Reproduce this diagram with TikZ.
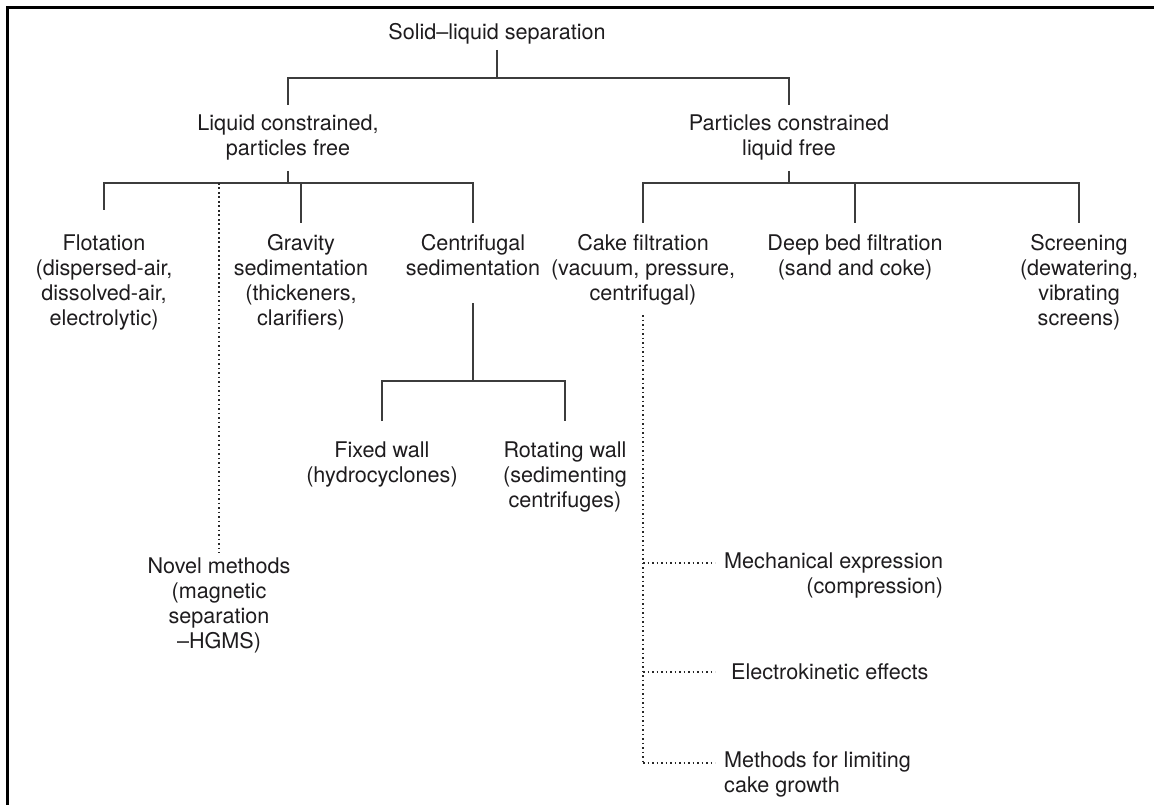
\documentclass[tikz,border=0pt]{standalone}
\usepackage{fontspec}
\setmainfont{TeX Gyre Heros}
\definecolor{txt}{RGB}{30,28,30}
\definecolor{ln}{RGB}{60,60,60}
\definecolor{dt}{RGB}{40,40,40}
\begin{document}
\begin{tikzpicture}[x=1pt,y=-1pt,
  lbl/.style={anchor=north,inner sep=0pt,align=center,font=\fontsize{21.6}{25}\selectfont,text=txt,execute at begin node=\strut},
  tree/.style={draw=ln,line width=1.3pt},
  dots/.style={draw=dt,line width=1.4pt,dash pattern=on 1.8pt off 2.7pt}]
\useasboundingbox (0,0) rectangle (1154,805);
\draw[line width=2.7pt,black] (7.5,805) -- (7.5,7.5) -- (1154,7.5);

% nodes
\node[lbl] (title) at (497,21.5) {Solid--liquid separation};
\node[lbl] (liquid) at (288,114.5) {Liquid constrained,\\particles free};
\node[lbl] (partic) at (789,114.5) {Particles constrained\\liquid free};
\node[lbl] (flot) at (104,234.5) {Flotation\\(dispersed-air,\\dissolved-air,\\electrolytic)};
\node[lbl] (grav) at (301,234.5) {Gravity\\sedimentation\\(thickeners,\\clarifiers)};
\node[lbl] (centr) at (473,234.5) {Centrifugal\\sedimentation};
\node[lbl] (cake) at (643,234.5) {Cake filtration\\(vacuum, pressure,\\centrifugal)};
\node[lbl] (deep) at (855,234.5) {Deep bed filtration\\(sand and coke)};
\node[lbl] (screen) at (1079,234.5) {Screening\\(dewatering,\\vibrating\\screens)};
\node[lbl] (fixed) at (382,441.5) {Fixed wall\\(hydrocyclones)};
\node[lbl] (rotat) at (565,441.5) {Rotating wall\\(sedimenting\\centrifuges)};
\node[lbl] (novel) at (219,557.5) {Novel methods\\(magnetic\\separation\\--HGMS)};
\node[lbl,anchor=north west,align=right] (mech) at (724,552.5) {Mechanical expression\\(compression)};
\node[lbl,anchor=north west] (elec) at (731,661.5) {Electrokinetic effects};
\node[lbl,anchor=north west,align=left] (meth) at (724,751.5) {Methods for limiting\\cake growth};

% junction coordinates
\coordinate (t0) at (497,50);
\coordinate (t1) at (497,78);
\coordinate (l0) at (288,171);
\coordinate (l1) at (288,183);
\coordinate (p0) at (789,171);
\coordinate (p1) at (789,183);
\coordinate (c0) at (473,303);
\coordinate (c1) at (473,381);
\coordinate (k0) at (643,315);
\coordinate (kM) at (643,563);
\coordinate (kE) at (643,672);
\coordinate (kL) at (643,763);

% top level
\draw[tree] (t0) -- (t1);
\draw[tree] ([yshift=9.5pt]liquid.north) |- (t1) -| ([yshift=9.5pt]partic.north);

% liquid constrained branch
\draw[tree] (l0) -- (l1);
\draw[tree] ([yshift=24.5pt]flot.north) |- (l1) -| ([yshift=11.5pt]centr.north);
\draw[tree] (l1 -| grav.north) -- ([yshift=11.5pt]grav.north);
\draw[dots] (l1 -| novel.north) -- ([yshift=4.5pt]novel.north);

% particles constrained branch
\draw[tree] (p0) -- (p1);
\draw[tree] ([yshift=11.5pt]cake.north) |- (p1) -| ([yshift=11.5pt]screen.north);
\draw[tree] (p1 -| deep.north) -- ([yshift=11.5pt]deep.north);

% centrifugal sub-branch
\draw[tree] (c0) -- (c1);
\draw[tree] ([yshift=20.5pt]fixed.north) |- (c1) -| ([yshift=20.5pt]rotat.north);

% cake filtration dotted branch
\draw[dots] (k0) -- (kL);
\draw[dots] (kM) -- (kM -| 715,0);
\draw[dots] (kE) -- (kE -| 715,0);
\draw[dots] (kL) -- (kL -| 715,0);
\end{tikzpicture}
\end{document}
